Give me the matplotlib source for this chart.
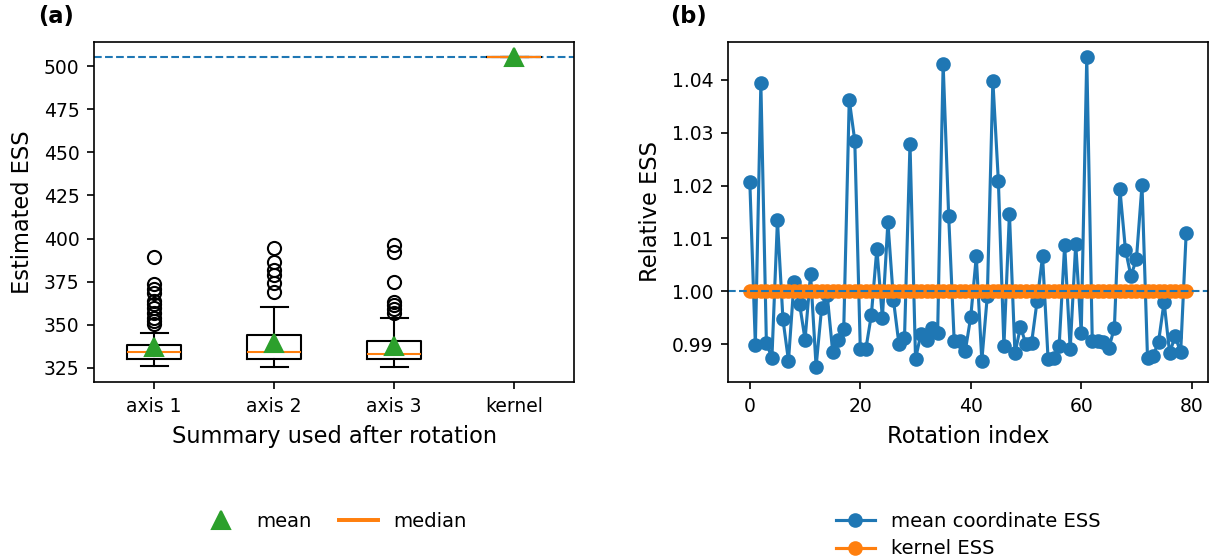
import matplotlib
matplotlib.use("Agg")
import matplotlib.pyplot as plt
from matplotlib.lines import Line2D

# ---------------- data ----------------
box_labels = ["axis 1", "axis 2", "axis 3", "kernel"]
box_whislo = [325.9, 325.8, 325.8, 505.0]
box_q1 = [330.4, 330.0, 330.0, 505.0]
box_med = [334.3, 334.1, 333.1, 505.0]
box_q3 = [338.5, 344.1, 340.6, 505.0]
box_whishi = [345.3, 360.1, 354.1, 505.0]
box_mean = [337.2, 339.5, 338.0, 505.0]
fliers_axis1 = [389.5, 373.8, 370.5, 368.2, 363.7, 361.8, 359.5, 357.0, 354.0, 352.1, 350.2]
fliers_axis2 = [394.7, 386.4, 381.6, 378.8, 374.0, 369.1]
fliers_axis3 = [396.1, 392.2, 374.9, 363.3, 361.5, 359.0, 357.0]
fliers_kernel = []
kernel_ess = 505.0

mean_coord_rel = [
    1.0207, 0.9899, 1.0393, 0.9903, 0.9874, 1.0134, 0.9947, 0.9869, 1.0018, 0.9977,
    0.9909, 1.0033, 0.9858, 0.9969, 0.9994, 0.9886, 0.9909, 0.9928, 1.0362, 1.0285,
    0.9892, 0.9891, 0.9955, 1.0081, 0.9950, 1.0131, 0.9984, 0.9900, 0.9911, 1.0279,
    0.9873, 0.9920, 0.9908, 0.9930, 0.9921, 1.0429, 1.0143, 0.9906, 0.9906, 0.9887,
    0.9952, 1.0066, 0.9869, 0.9992, 1.0398, 1.0208, 0.9897, 1.0147, 0.9883, 0.9933,
    0.9900, 0.9902, 0.9981, 1.0066, 0.9872, 0.9875, 0.9897, 1.0088, 0.9891, 1.0090,
    0.9922, 1.0442, 0.9906, 0.9906, 0.9904, 0.9893, 0.9931, 1.0193, 1.0079, 1.0029,
    1.0062, 1.0201, 0.9874, 0.9878, 0.9905, 0.9980, 0.9884, 0.9915, 0.9885, 1.0110,
]
kernel_rel = [1.0] * len(mean_coord_rel)
rotation_index = list(range(len(mean_coord_rel)))

# ---------------- style ----------------
plt.rcParams.update({
    "font.size": 9,
    "xtick.labelsize": 9,
    "ytick.labelsize": 9,
    "axes.labelsize": 10.8,
    "legend.fontsize": 9.4,
    "axes.labelpad": 4.5,
})

W, H = 1214, 559
DPI = 150
fig = plt.figure(figsize=(W / DPI, H / DPI), dpi=DPI)
ax1 = fig.add_axes([94 / W, 1 - 382 / H, 480 / W, 340 / H])
ax2 = fig.add_axes([728 / W, 1 - 382 / H, 480 / W, 340 / H])

green = "#2ca02c"

# ---------------- panel (a) ----------------
fliers_all = [fliers_axis1, fliers_axis2, fliers_axis3, fliers_kernel]
stats = []
for i, lab in enumerate(box_labels):
    stats.append(dict(label=lab, whislo=box_whislo[i], q1=box_q1[i], med=box_med[i],
                      q3=box_q3[i], whishi=box_whishi[i], mean=box_mean[i],
                      fliers=fliers_all[i]))
ax1.axhline(kernel_ess, color="C0", ls="--", lw=1.0, zorder=1)
ax1.bxp(stats, showmeans=True,
        meanprops=dict(marker="^", markerfacecolor=green, markeredgecolor=green,
                       markersize=8.5),
        flierprops=dict(marker="o", markerfacecolor="none", markeredgecolor="black",
                        markersize=6.3, markeredgewidth=1.0))
ax1.set_xlabel("Summary used after rotation")
ax1.set_ylabel("Estimated ESS")

# ---------------- panel (b) ----------------
ax2.plot(rotation_index, mean_coord_rel, marker="o", color="C0", label="mean coordinate ESS")
ax2.plot(rotation_index, kernel_rel, marker="o", color="C1", label="kernel ESS")
ax2.axhline(1.0, color="C0", ls="--", lw=1.0)
ax2.set_xlabel("Rotation index")
ax2.set_ylabel("Relative ESS")
ax2.set_yticks([0.99, 1.00, 1.01, 1.02, 1.03, 1.04])

# ---------------- labels & legends ----------------
fig.text(38 / W, 1 - 16 / H, "(a)", fontweight="bold", fontsize=10.8, ha="left", va="center")
fig.text(670 / W, 1 - 16 / H, "(b)", fontweight="bold", fontsize=10.8, ha="left", va="center")

leg_handles = [
    Line2D([], [], marker="^", color=green, ls="none", markersize=8.5),
    Line2D([], [], color="C1", lw=1.9),
]
fig.legend(leg_handles, ["mean", "median"], loc="upper center", ncol=2, frameon=False,
           bbox_to_anchor=(334 / W, 1 - 494 / H), columnspacing=1.4)
h, l = ax2.get_legend_handles_labels()
fig.legend(h, l, loc="upper center", ncol=1, frameon=False,
           bbox_to_anchor=(968 / W, 1 - 494 / H), labelspacing=0.45)

fig.savefig("out.png", dpi=DPI)
